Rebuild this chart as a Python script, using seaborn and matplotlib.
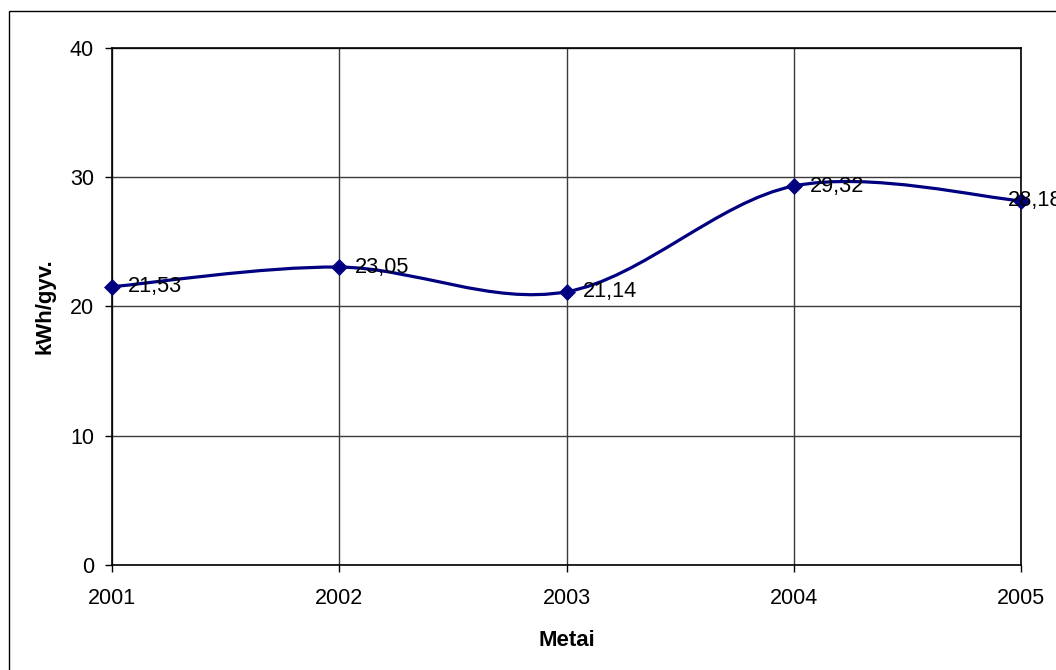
import matplotlib
matplotlib.use("Agg")
import matplotlib.pyplot as plt
import seaborn as sns
import pandas as pd
from matplotlib.path import Path
from matplotlib.patches import PathPatch, Rectangle

# values
years = [2001, 2002, 2003, 2004, 2005]
values = [21.53, 23.05, 21.14, 29.32, 28.18]
y_ticks = [0, 10, 20, 30, 40]
x_label = "Metai"
y_label = "kWh/gyv."

df = pd.DataFrame({"year": years, "value": values})

sns.set_style("ticks")
plt.rcParams['font.family'] = ['Liberation Sans', 'DejaVu Sans']
plt.rcParams['text.color'] = 'black'
plt.rcParams['axes.labelcolor'] = 'black'
navy = "#000080"

fig = plt.figure(figsize=(10.56, 6.70), dpi=100)
ax = fig.add_axes([0.1061, 0.1567, 0.8608, 0.7717])

# outer chart frame (runs off the right and bottom edge)
fig.patches.append(Rectangle((9 / 1056, -0.2), 1.2, 0.2 + (670 - 11) / 670,
                             transform=fig.transFigure, fill=False,
                             edgecolor="black", linewidth=1.0))

# smoothed line like Excel: bezier segments through the points
pts = list(zip(df["year"], df["value"]))
verts = [pts[0]]
codes = [Path.MOVETO]
for i in range(len(pts) - 1):
    p0 = pts[i - 1] if i > 0 else pts[i]
    p1 = pts[i]
    p2 = pts[i + 1]
    p3 = pts[i + 2] if i + 2 < len(pts) else pts[i + 1]
    c1 = (p1[0] + (p2[0] - p0[0]) / 6, p1[1] + (p2[1] - p0[1]) / 6)
    c2 = (p2[0] - (p3[0] - p1[0]) / 6, p2[1] - (p3[1] - p1[1]) / 6)
    verts += [c1, c2, p2]
    codes += [Path.CURVE4] * 3
ax.add_patch(PathPatch(Path(verts, codes), fill=False, edgecolor=navy,
                       linewidth=2.3, zorder=3, clip_on=False))

sns.scatterplot(data=df, x="year", y="value", marker="D", s=75, color=navy,
                edgecolor=navy, linewidth=0, zorder=4, clip_on=False, ax=ax)

for i, (x, v) in enumerate(zip(years, values)):
    dx = -9.5 if i == len(years) - 1 else 11.5
    ax.annotate(f"{v:.2f}".replace(".", ","), (x, v), xytext=(dx, 0),
                textcoords="offset points", ha="left", va="center",
                fontsize=15.7, color="black", annotation_clip=False, zorder=5)

ax.set_xlim(2001, 2005)
ax.set_ylim(0, 40)
ax.set_xticks(years)
ax.set_yticks(y_ticks)
ax.set_xticklabels([str(y) for y in years])
ax.grid(True, color="#3a3a3a", linewidth=1.0)
ax.set_axisbelow(True)
for s in ax.spines.values():
    s.set_visible(True)
    s.set_color("black")
    s.set_linewidth(1.2)
ax.tick_params(axis="both", direction="out", length=5, width=1, color="black",
               labelsize=15.5, labelcolor="black")
ax.tick_params(axis="y", pad=8)
ax.tick_params(axis="x", pad=11.5)
ax.set_xlabel(x_label, fontsize=16, fontweight="bold", labelpad=15, color="black")
ax.set_ylabel(y_label, fontsize=16, fontweight="bold", labelpad=10, color="black")

fig.savefig("out.png", dpi=100)
